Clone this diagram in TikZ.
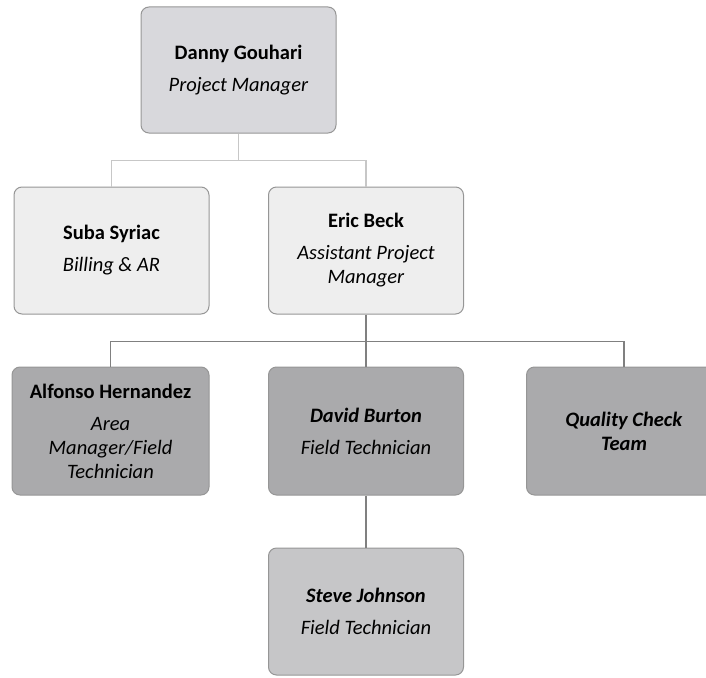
\documentclass[tikz,border=0pt]{standalone}
\usepackage{fontspec}
\setmainfont{Carlito}
\usepackage{tikz}

\definecolor{boxtop}{RGB}{216,216,220}
\definecolor{boxlight}{RGB}{238,238,238}
\definecolor{boxdark}{RGB}{170,170,172}
\definecolor{boxmid}{RGB}{198,198,200}
\definecolor{boxline}{RGB}{150,150,150}

\begin{document}
\begin{tikzpicture}[x=1pt, y=-1pt,
		person/.style={draw=boxline, line width=1pt, rounded corners=8pt, minimum width=195pt, minimum height=127pt, align=center, inner sep=2pt, font=\fontsize{20.5}{24}\selectfont},
		upper/.style={draw=black!22, line width=1.8pt},
		lower/.style={draw=black!50, line width=1.8pt}]
				\useasboundingbox (0,0) rectangle (706,677);
				\node[person, fill=boxtop, minimum height=126pt] (danny) at (238.5,70) {\textbf{Danny Gouhari}\\[8pt]\textit{Project Manager}};
				\node[person, fill=boxlight] (suba) at (111.5,250.5) {\textbf{Suba Syriac}\\[8pt]\textit{Billing \& AR}};
				\node[person, fill=boxlight] (eric) at (366,250.5) {\textbf{Eric Beck}\\[8pt]\textit{Assistant Project}\\\textit{Manager}};
				\node[person, fill=boxdark, minimum width=197pt, minimum height=128pt] (alfonso) at (110.5,431) {\textbf{Alfonso Hernandez}\\[8pt]\textit{Area}\\\textit{Manager/Field}\\\textit{Technician}};
				\node[person, fill=boxdark, minimum height=128pt] (david) at (366,431) {\textbf{\textit{David Burton}}\\[8pt]\textit{Field Technician}};
				\node[person, fill=boxdark, minimum height=128pt] (quality) at (624,431) {\textbf{\textit{Quality Check}}\\\textbf{\textit{Team}}};
				\node[person, fill=boxmid] (steve) at (366,611.5) {\textbf{\textit{Steve Johnson}}\\[8pt]\textit{Field Technician}};
				\draw[upper] (danny.south) -- ++(0,27) coordinate (bustop) -| (suba.north);
				\draw[upper] (bustop) -| (eric.north);
				\draw[lower] (eric.south) -- ++(0,27) coordinate (busmid) -| (alfonso.north);
				\draw[lower] (busmid) -- (david.north);
				\draw[lower] (busmid) -| (quality.north);
				\draw[lower] (david.south) -- (steve.north);
			\end{tikzpicture}
\end{document}
